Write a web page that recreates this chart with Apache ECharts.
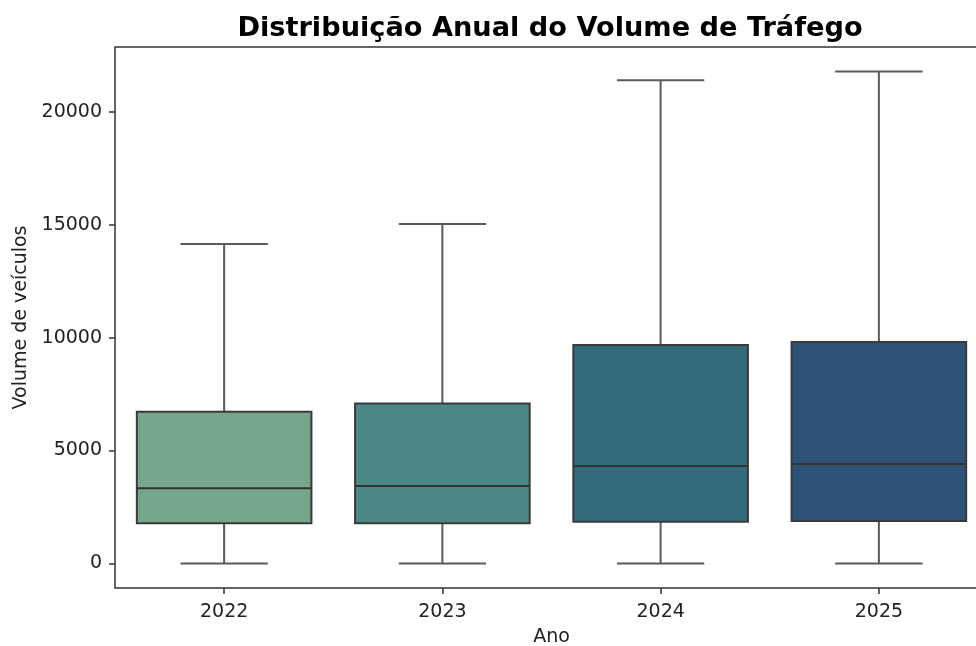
<!DOCTYPE html>
<html><head><meta charset="utf-8">
<script src="https://cdn.jsdelivr.net/npm/echarts@6/dist/echarts.min.js"></script>
<style>html,body{margin:0;padding:0;background:#fff}#c{width:976px;height:646px}</style>
</head><body><div id="c"></div>
<script>
const years = ['2022', '2023', '2024', '2025'];
const whiskerLow = [0, 0, 0, 0];
const q1 = [1780, 1780, 1850, 1880];
const median = [3330, 3430, 4320, 4400];
const q3 = [6720, 7080, 9680, 9810];
const whiskerHigh = [14150, 15040, 21410, 21790];
const yTicks = [0, 5000, 10000, 15000, 20000];
const fills = ['#75a78d', '#4c8984', '#326c7c', '#2d5275'];

const rows = years.map((y, i) => [i, whiskerLow[i], q1[i], median[i], q3[i], whiskerHigh[i]]);

const chart = echarts.init(document.getElementById('c'), null, {renderer: 'canvas'});
const font = 'DejaVu Sans';
chart.setOption({
  animation: false,
  backgroundColor: '#fff',
  title: {
    text: 'Distribuição Anual do Volume de Tráfego',
    left: 545, top: 10, textAlign: 'center',
    textStyle: {fontFamily: font, fontWeight: 'bold', fontSize: 27.2, color: '#000'}
  },
  grid: {left: 115, top: 47, width: 873, height: 541, show: true, borderColor: '#333', borderWidth: 1.5,
         backgroundColor: 'transparent', containLabel: false, outerBoundsMode: 'none'},
  xAxis: {
    type: 'category', data: years, boundaryGap: true,
    name: 'Ano', nameLocation: 'middle', nameGap: 40,
    nameTextStyle: {fontFamily: font, fontSize: 19, color: '#222'},
    axisLine: {show: false, onZero: false},
    axisTick: {show: true, alignWithLabel: true, length: 6, lineStyle: {color: '#333', width: 1.5}},
    axisLabel: {fontFamily: font, fontSize: 19, color: '#222', margin: 15},
    splitLine: {show: false}
  },
  yAxis: {
    type: 'value', min: -1090, max: 22880,
    name: 'Volume de veículos', nameLocation: 'middle', nameGap: 84, nameRotate: 90,
    nameTextStyle: {fontFamily: font, fontSize: 19, color: '#222'},
    axisLine: {show: false, onZero: false},
    axisTick: {show: true, length: 6, customValues: yTicks, lineStyle: {color: '#333', width: 1.5}},
    axisLabel: {fontFamily: font, fontSize: 19, color: '#222', margin: 13, customValues: yTicks, formatter: v => String(v)},
    splitLine: {show: false}
  },
  series: [{
    type: 'custom',
    data: rows,
    clip: false,
    encode: {x: 0, y: [1, 2, 3, 4, 5]},
    renderItem: function (params, api) {
      const i = api.value(0);
      const band = api.size([1, 0])[0];
      const bw = band * 0.8;
      const cw = bw * 0.5;
      const xc = api.coord([i, 0])[0];
      const yLow = api.coord([i, api.value(1)])[1];
      const yQ1 = api.coord([i, api.value(2)])[1];
      const yMed = api.coord([i, api.value(3)])[1];
      const yQ3 = api.coord([i, api.value(4)])[1];
      const yHigh = api.coord([i, api.value(5)])[1];
      const wStyle = {stroke: '#5a5a5a', lineWidth: 2, fill: null};
      const bStyle = {stroke: '#3a3a3a', lineWidth: 2};
      return {
        type: 'group',
        children: [
          {type: 'line', shape: {x1: xc, y1: yQ1, x2: xc, y2: yLow}, style: wStyle},
          {type: 'line', shape: {x1: xc, y1: yQ3, x2: xc, y2: yHigh}, style: wStyle},
          {type: 'line', shape: {x1: xc - cw / 2, y1: yLow, x2: xc + cw / 2, y2: yLow}, style: wStyle},
          {type: 'line', shape: {x1: xc - cw / 2, y1: yHigh, x2: xc + cw / 2, y2: yHigh}, style: wStyle},
          {type: 'rect', shape: {x: xc - bw / 2, y: yQ3, width: bw, height: yQ1 - yQ3},
           style: Object.assign({fill: fills[i]}, bStyle)},
          {type: 'line', shape: {x1: xc - bw / 2, y1: yMed, x2: xc + bw / 2, y2: yMed}, style: {stroke: '#333', lineWidth: 2}}
        ]
      };
    }
  }]
});
</script></body></html>
